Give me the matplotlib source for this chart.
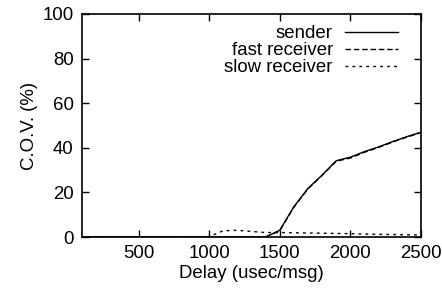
import numpy as np
from matplotlib import pyplot as plt

plt.rcParams['font.family'] = ['Liberation Sans', 'DejaVu Sans']

delay = [100, 200, 300, 400, 500, 600, 700, 800, 900, 1000, 1100, 1200, 1300,
         1400, 1500, 1600, 1700, 1800, 1900, 2000, 2100, 2200, 2300, 2400, 2500]
sender = [0, 0, 0, 0, 0, 0, 0, 0, 0, 0, 0, 0, 0,
          0, 3.0, 13.6, 21.8, 27.8, 34.2, 35.8, 38.3, 40.4, 42.8, 45.0, 47.0]
fast = [0, 0, 0, 0, 0, 0, 0, 0, 0, 0, 0, 0, 0,
        0, 2.8, 13.4, 21.6, 27.6, 34.0, 35.4, 38.0, 40.2, 42.6, 44.8, 46.8]
slow = [0, 0, 0, 0, 0, 0, 0, 0, 0, 0.2, 2.8, 3.0, 2.5,
        2.0, 2.0, 1.9, 1.8, 1.7, 1.6, 1.5, 1.3, 1.2, 1.1, 1.0, 0.9]

fs = 13.4

fig = plt.figure(figsize=(4.42, 2.97), dpi=100)
ax = fig.add_axes([82/442, 1 - 237/297, (421-82)/442, (237-14)/297])

ax.plot(delay, sender, 'k-', linewidth=1.0, label='sender')
ax.plot(delay, fast, 'k', linestyle=(0, (4, 2)), linewidth=1.0, label='fast receiver')
ax.plot(delay, slow, 'k', linestyle=(0, (2, 3)), linewidth=1.0, label='slow receiver')

ax.set_xlim(100, 2500)
ax.set_ylim(0, 100)
ax.set_xticks([500, 1000, 1500, 2000, 2500])
ax.set_yticks([0, 20, 40, 60, 80, 100])
ax.tick_params(direction='in', top=True, right=True, length=5, width=1,
               labelsize=fs, pad=6)
for s in ax.spines.values():
    s.set_linewidth(1.2)

ax.set_xlabel('Delay (usec/msg)', fontsize=fs, labelpad=2)
ax.set_ylabel('C.O.V. (%)', fontsize=fs, labelpad=3)

ax.legend(loc='upper right', frameon=False, markerfirst=False, fontsize=fs,
          handlelength=2.85, handletextpad=0.65, labelspacing=0.0,
          borderaxespad=0.0, borderpad=0.0,
          bbox_to_anchor=((398-82)/339, 1 - 11/223))

plt.savefig('out.png', dpi=100)
